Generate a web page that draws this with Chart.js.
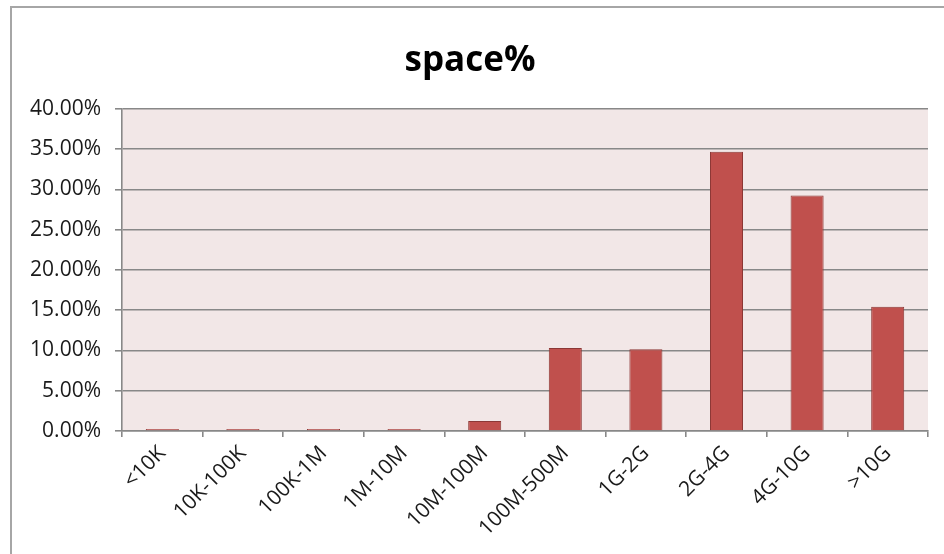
<!DOCTYPE html>
<html>
<head>
<meta charset="utf-8">
<title>space%</title>
<script src="https://cdn.jsdelivr.net/npm/chart.js@4/dist/chart.umd.min.js"></script>
<style>
    html, body {
        margin: 0;
        padding: 0;
        width: 944px;
        height: 554px;
        overflow: hidden;
        background: #ffffff;
    }
    #frame {
        position: absolute;
        left: 10px;
        top: 6px;
        width: 950px;
        height: 560px;
        border: 2px solid #a6a6a6;
    }
</style>
</head>
<body>
<div id="frame">
    <canvas id="space-chart" width="950" height="560"></canvas>
</div>
<script>
// Faixas de tamanho de arquivo
const categorias = ['<10K', '10K-100K', '100K-1M', '1M-10M', '10M-100M', '100M-500M', '1G-2G', '2G-4G', '4G-10G', '>10G'];
// Percentual do espaço ocupado por faixa
const espaco = [0.25, 0.25, 0.25, 0.25, 1.25, 10.3, 10.15, 34.7, 29.25, 15.45];
// Marcas do eixo Y
const ticksY = [0, 5, 10, 15, 20, 25, 30, 35, 40];

const corTexto = '#1a1a1a';
const corGrade = '#888888';

// Fundo rosado da área de plotagem
const fundoArea = {
    id: 'fundoArea',
    beforeDraw(chart) {
        const { ctx, chartArea: a } = chart;
        ctx.save();
        ctx.fillStyle = '#f2e7e7';
        ctx.fillRect(a.left, a.top, a.right - a.left, a.bottom - a.top);
        ctx.restore();
    }
};

document.addEventListener('DOMContentLoaded', function() {
    new Chart(document.getElementById('space-chart'), {
        type: 'bar',
        data: {
            labels: categorias,
            datasets: [{
                label: 'space%',
                data: espaco,
                backgroundColor: '#c0504d',
                borderColor: '#8c3836',
                borderWidth: 1,
                barPercentage: 0.41,
                categoryPercentage: 1
            }]
        },
        plugins: [fundoArea],
        options: {
            responsive: false,
            animation: false,
            layout: {
                padding: { left: 0, right: 34, top: 0, bottom: 0 }
            },
            plugins: {
                legend: { display: false },
                tooltip: { enabled: false },
                title: {
                    display: true,
                    text: 'space%',
                    color: '#000000',
                    font: { family: 'Open Sans', size: 35, weight: 'bold' },
                    padding: { top: 32, bottom: 27 }
                }
            },
            scales: {
                x: {
                    afterFit(scale) { scale.height = 137; },
                    grid: {
                        offset: true,
                        drawOnChartArea: false,
                        drawTicks: true,
                        tickLength: 6,
                        color: corGrade,
                        lineWidth: 1.6
                    },
                    border: { display: true, color: corGrade, width: 1.6 },
                    ticks: {
                        color: corTexto,
                        font: { family: 'Open Sans', size: 21 },
                        minRotation: 45,
                        maxRotation: 45,
                        padding: 4,
                        autoSkip: false
                    }
                },
                y: {
                    min: 0,
                    max: 40,
                    afterFit(scale) { scale.width = 110; },
                    afterBuildTicks(scale) {
                        scale.ticks = ticksY.map(v => ({ value: v }));
                    },
                    grid: {
                        color: corGrade,
                        lineWidth: 1.6,
                        drawTicks: true,
                        tickLength: 7
                    },
                    border: { display: true, color: corGrade, width: 1.6 },
                    ticks: {
                        color: corTexto,
                        font: { family: 'Open Sans', size: 21 },
                        padding: 14,
                        callback: v => v.toFixed(2) + '%'
                    }
                }
            }
        }
    });
});
</script>
</body>
</html>
